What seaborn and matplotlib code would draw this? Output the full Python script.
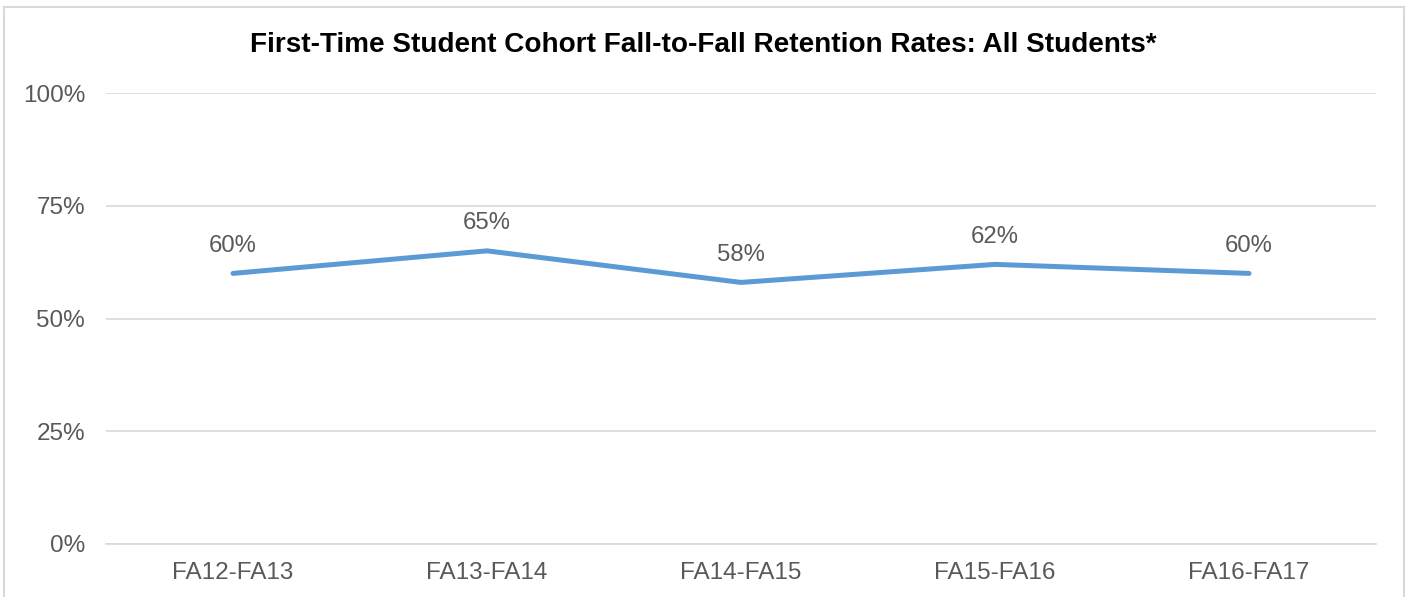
import matplotlib.pyplot as plt
import seaborn as sns
import pandas as pd
from matplotlib.patches import Rectangle
from matplotlib.ticker import FuncFormatter

# data
terms = ["FA12-FA13", "FA13-FA14", "FA14-FA15", "FA15-FA16", "FA16-FA17"]
retention = [60, 65, 58, 62, 60]

df = pd.DataFrame({"term": terms, "rate": retention})

sns.set_style("white")
plt.rcParams['font.family'] = ['Liberation Sans', 'DejaVu Sans']

fig = plt.figure(figsize=(14.06, 5.97), dpi=100)
ax = fig.add_axes([106/1406, 1-544/597, 1270/1406, 451/597])

sns.lineplot(data=df, x="term", y="rate", ax=ax, color="#5B9BD5",
             linewidth=3.6, sort=False)

# point labels above
for i, v in enumerate(retention):
    ax.annotate("{0}%".format(v), (i, v), xytext=(0, 15.5), textcoords="offset points",
                ha="center", va="baseline", fontsize=17.2, color="#595959")

ax.set_xlim(-0.5, len(terms) - 0.5)
ax.set_ylim(0, 100)
ax.set_yticks([0, 25, 50, 75, 100])
ax.yaxis.set_major_formatter(FuncFormatter(lambda v, p: "{0:.0f}%".format(v)))
ax.grid(axis="y", color="#D9D9D9", linewidth=1.2)
ax.set_axisbelow(True)
for s in ["top", "right", "left"]:
    ax.spines[s].set_visible(False)
ax.spines["bottom"].set_color("#D9D9D9")
ax.spines["bottom"].set_linewidth(1.2)
ax.tick_params(axis="both", length=0, labelsize=17.5, labelcolor="#595959")
ax.tick_params(axis="x", pad=13)
ax.tick_params(axis="y", pad=15)
ax.set_xlabel("")
ax.set_ylabel("")

fig.text(0.5, 1-45/597, "First-Time Student Cohort Fall-to-Fall Retention Rates: All Students*",
         ha="center", va="center", fontsize=20.1, fontweight="bold", color="black")

# chart border
fig.patches.append(Rectangle((4/1406, -0.05), 1400/1406, 1.05 - 7/597,
                             transform=fig.transFigure, fill=False,
                             edgecolor="#D9D9D9", linewidth=1.5))

fig.savefig("out.png", dpi=100)
